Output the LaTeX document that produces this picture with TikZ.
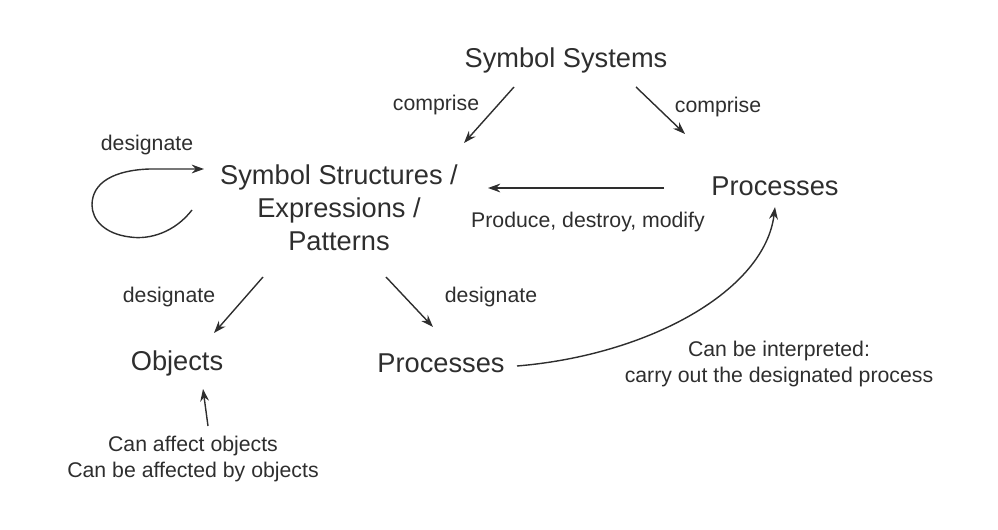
\documentclass[tikz,border=0pt]{standalone}
\usepackage{fontspec}
\setmainfont{Liberation Sans}
\usetikzlibrary{arrows.meta}
\definecolor{ink}{HTML}{2E2E2E}
\tikzset{
  big/.style={text=ink, font=\fontsize{15.5}{18.7}\selectfont, align=center, inner sep=0pt},
  small/.style={text=ink, font=\fontsize{12.1}{14.6}\selectfont, align=center, inner sep=0pt},
  conn/.style={draw=ink, line width=0.8pt, -{Stealth[length=7pt,width=5pt]}}
}
\begin{document}
\begin{tikzpicture}[x=0.02cm,y=-0.02cm]
\useasboundingbox (0,0) rectangle (998,530);
% main nodes
\node[big] (sys) at (566,60) {Symbol Systems};
\node[big] (struct) at (339,208) {Symbol Structures /\\Expressions /\\Patterns};
\node[big] (procR) at (775,186) {Processes};
\node[big] (obj) at (177,363) {Objects};
\node[big] (procL) at (441,363) {Processes};
% labels
\node[small] (lc1) at (436,105) {comprise};
\node[small] (lc2) at (718,107) {comprise};
\node[small] (ld0) at (147,145) {designate};
\node[small] (lpdm) at (588,222) {Produce, destroy, modify};
\node[small] (ld1) at (169,297) {designate};
\node[small] (ld2) at (491,297) {designate};
\node[small] (linterp) at (779,364) {Can be interpreted:\\carry out the designated process};
\node[small] (laffect) at (193,459) {Can affect objects\\Can be affected by objects};
% connector endpoints
\coordinate (a1s) at (514,87);   \coordinate (a1e) at (464,143);
\coordinate (a2s) at (636,87);   \coordinate (a2e) at (685,134);
\coordinate (a3s) at (664,188);  \coordinate (a3e) at (488,188);
\coordinate (a4s) at (263,277);  \coordinate (a4e) at (214,333);
\coordinate (a5s) at (386,277);  \coordinate (a5e) at (433,327);
\coordinate (a6s) at (208,426);  \coordinate (a6e) at (203,389);
\coordinate (a7s) at (517,366);  \coordinate (a7e) at (775,207);
\coordinate (lps) at (192,210);  \coordinate (lpe) at (204,169);
% connectors
\draw[conn] (a1s) -- (a1e);
\draw[conn] (a2s) -- (a2e);
\draw[conn] (a3s) -- (a3e);
\draw[conn] (a4s) -- (a4e);
\draw[conn] (a5s) -- (a5e);
\draw[conn] (a6s) -- (a6e);
\draw[conn] (a7s) .. controls (650,355) and (765,290) .. (a7e);
\draw[conn] (lps) .. controls (175,232) and (150,240) .. (130,237)
  .. controls (105,234) and (92,220) .. (92,205)
  .. controls (92,182) and (115,170) .. (150,169)
  -- (lpe);
\end{tikzpicture}
\end{document}
